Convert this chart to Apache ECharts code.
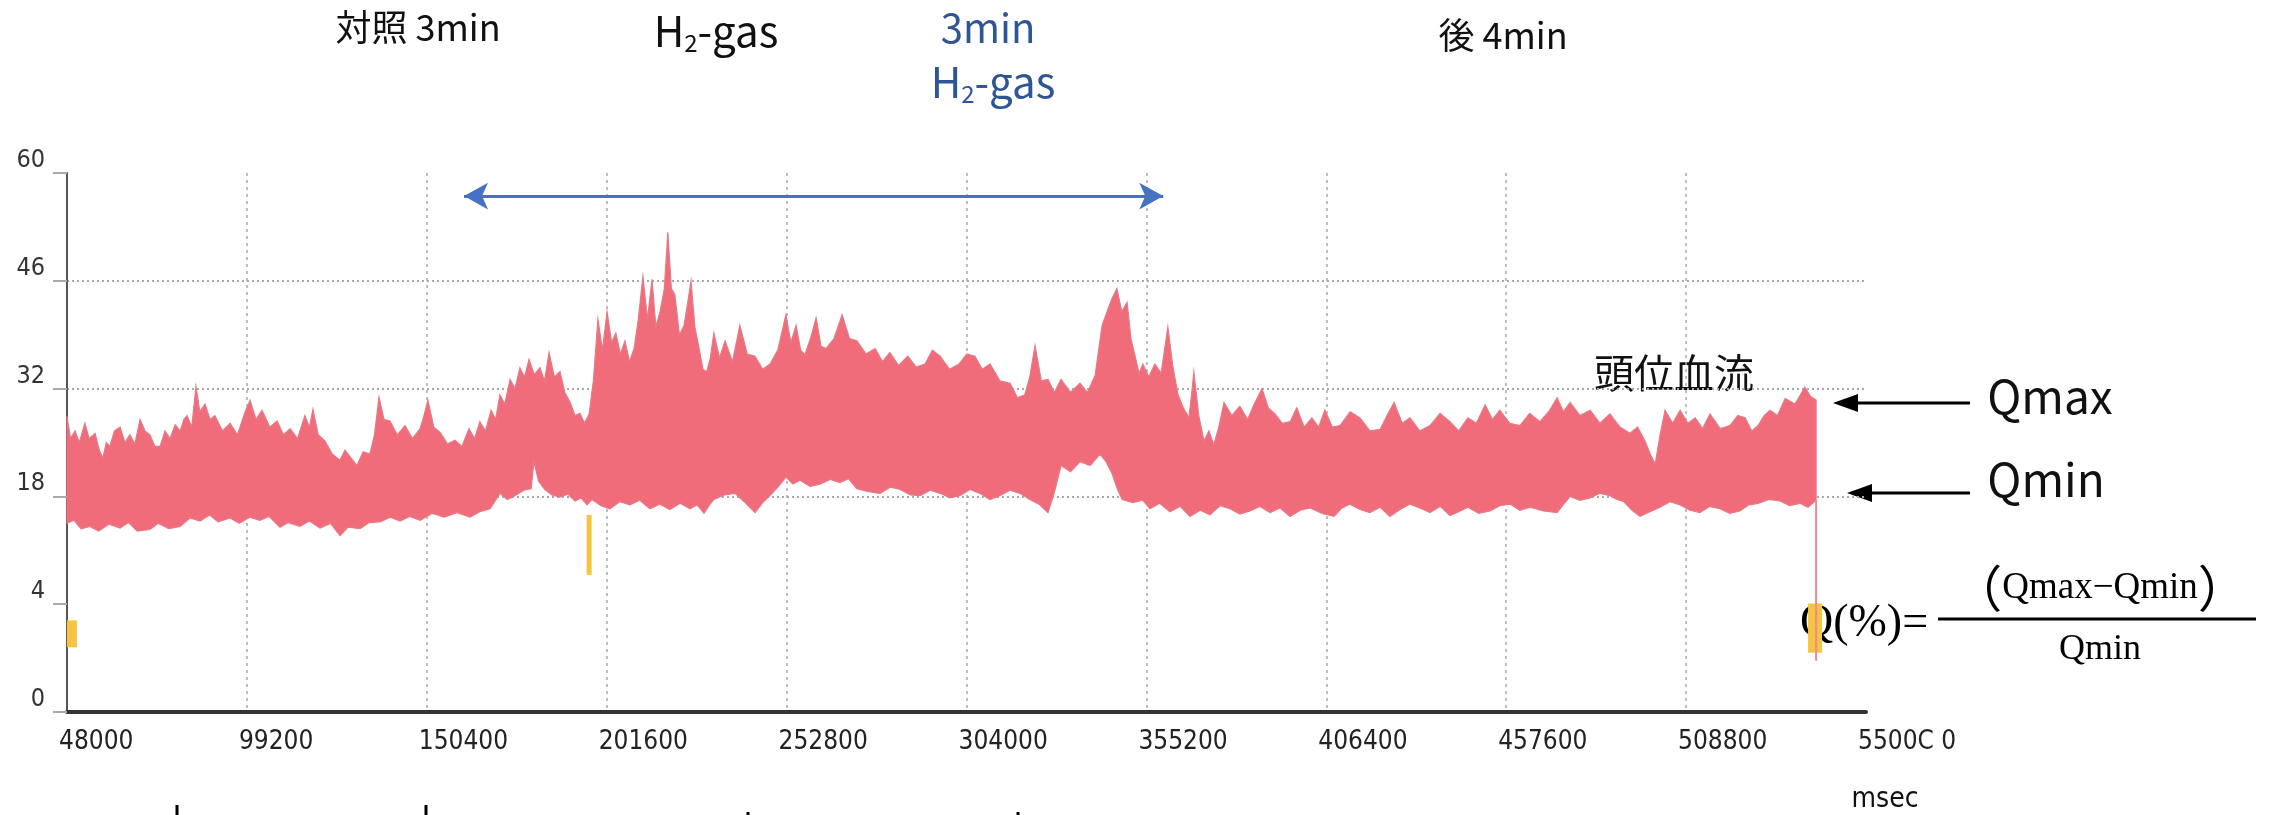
<!DOCTYPE html>
<html>
<head>
<meta charset="utf-8">
<script src="https://cdn.jsdelivr.net/npm/echarts@6/dist/echarts.min.js"></script>
<style>
  html, body { margin: 0; padding: 0; background: #fff; }
  #main { width: 2273px; height: 815px; }
</style>
</head>
<body>
<div id="main"></div>
<script>
// tick labels as printed on the scan (y axis is evenly spaced, labels are not)
var yTickLabels = ['0', '4', '18', '32', '46', '60'];
var xTickLabels = ['48000', '99200', '150400', '201600', '252800', '304000',
                   '355200', '406400', '457600', '508800', '5500C 0'];
var T0 = 48000;        // first x tick, msec
var xStep = 51200;     // msec between x ticks

// upper edge of the blood-flow band [msec, value]
var upperEnv = [
  [48000, 28.4], [49000, 25.5], [50300, 26.5], [51500, 25], [53100, 27.5], [54300, 25.5],
  [56000, 26.2], [57200, 24], [58200, 23], [59200, 25], [60200, 24.5], [61500, 26.5],
  [63100, 27], [64500, 25], [65900, 26], [67300, 24.8], [68800, 28], [70200, 26.5],
  [71600, 26], [73000, 24.5], [74500, 24.5], [75900, 26.5], [77300, 25.5], [78800, 27.3],
  [80200, 26.5], [81300, 28], [82200, 28.5], [83500, 27], [84700, 32.3], [85800, 29],
  [87300, 30], [88700, 28], [90100, 28.5], [92300, 26.5], [94400, 27.5], [96500, 26],
  [98700, 29], [100100, 30.5], [101800, 28], [103500, 29.2], [105700, 27], [107800, 27.8],
  [109600, 26], [111500, 26.8], [113600, 25.5], [115700, 28.5], [117000, 27], [118000, 29.3],
  [119500, 26], [121400, 25.2], [123500, 23.5], [125700, 22.7], [127100, 24], [128500, 23.2],
  [130500, 22], [132300, 23.8], [134200, 23.5], [135500, 26], [136800, 30.9], [138200, 28],
  [139900, 27.8], [142000, 26], [144200, 27.2], [146300, 25.5], [148500, 26.8], [149600, 28.5],
  [150700, 30.5], [152400, 27], [154200, 26.3], [156300, 24.8], [158400, 25.3], [160400, 24.5],
  [162400, 26.8], [164000, 25.5], [165500, 27.7], [167100, 26.5], [168700, 29.2], [170000, 28],
  [171200, 31.2], [172600, 30], [174100, 33.2], [175500, 32], [176900, 34.7], [178200, 33.5],
  [179500, 35.8], [181000, 33.8], [182600, 34.7], [183900, 33], [185200, 36.7], [186700, 33.5],
  [188300, 34.2], [189700, 31.5], [191200, 30.2], [192600, 28.5], [194000, 28.8], [195300, 27.5],
  [196600, 28.7], [197800, 33], [199100, 41], [200400, 37], [201700, 42], [203000, 38],
  [204200, 39.2], [205500, 36.5], [206800, 38.2], [208100, 35.5], [209400, 37.2], [210600, 41],
  [211900, 46.6], [213200, 41], [214500, 46.2], [215600, 40], [216800, 42], [218000, 45],
  [219000, 52.3], [220000, 45], [221000, 44.2], [222300, 39], [223600, 40.2], [224600, 43],
  [225600, 46], [226700, 40], [227900, 37.2], [229000, 34.5], [230100, 34.2], [231100, 36],
  [232100, 39.2], [233700, 36], [235300, 38.2], [237400, 35.5], [239500, 40.2], [241600, 36.5],
  [243800, 36.2], [246000, 34.5], [248100, 35.2], [250300, 37], [252600, 41.6], [254000, 38],
  [255500, 40.2], [256800, 37], [258000, 36.4], [259600, 38.5], [261200, 41.2], [262600, 37.5],
  [264000, 37.2], [266300, 38.5], [268600, 41.6], [270700, 38.5], [272800, 38.2], [275400, 36.5],
  [278000, 37.2], [280100, 35.5], [282200, 36.7], [284700, 35], [287300, 36.2], [289700, 34.8],
  [292200, 35.2], [294300, 37], [296500, 36.2], [299200, 34.5], [301900, 35.2], [304100, 36.5],
  [306400, 36.2], [308500, 34.5], [310700, 35.2], [313500, 33], [316400, 32.7], [318500, 30.8],
  [320600, 31.2], [322000, 33.5], [323500, 37.6], [325300, 33], [327200, 33.2], [329000, 31.5],
  [330900, 33.2], [333600, 31.5], [336300, 32.7], [338400, 31.5], [340600, 33.7], [341600, 37],
  [342600, 40.2], [344000, 42], [345400, 43.7], [346800, 45], [348200, 42], [349700, 43.2],
  [350800, 38.5], [352000, 36.2], [353100, 34], [354200, 35.2], [355900, 33.5], [357600, 35.2],
  [359400, 34], [361300, 40], [362700, 35], [364200, 31.2], [365700, 29.5], [367300, 28.2],
  [368000, 31], [368700, 34.2], [370100, 28.5], [371600, 25.2], [373000, 26.5], [374400, 24.7],
  [375800, 27], [377300, 30.2], [379500, 28.5], [381800, 29.7], [384000, 28], [385900, 30],
  [388100, 32], [389900, 29.5], [391800, 28.7], [393900, 27.5], [396100, 27.7], [398000, 29.5],
  [400100, 27], [402300, 28.2], [404200, 27], [406000, 29.2], [408100, 27], [410300, 27.2],
  [413200, 29], [416000, 28.2], [418800, 26.5], [421700, 26.7], [423700, 28.5], [425700, 30.2],
  [428000, 27.5], [430200, 28.2], [433000, 26.5], [435900, 27.2], [438800, 28.8], [441600, 27.7],
  [444100, 26.5], [446700, 28.2], [449100, 27.5], [451600, 29.9], [453700, 28], [455800, 29.2],
  [458600, 27.5], [461500, 27.2], [464300, 28.8], [467200, 27.7], [469700, 29], [472100, 30.8],
  [473900, 29], [475800, 30.2], [478600, 28.5], [481500, 29.2], [484300, 27.5], [487100, 28.7],
  [490000, 27], [492800, 26.2], [495000, 27], [497100, 25.2], [498600, 23.5], [500000, 22.2],
  [501400, 26], [502800, 29.2], [505000, 27.5], [507100, 29.2], [509300, 27.5], [511400, 28.2],
  [513500, 26.8], [515600, 28.7], [518500, 26.8], [521300, 27.2], [523500, 28.5], [525600, 28.2],
  [527500, 26.5], [529300, 27.2], [531000, 28.5], [532700, 29.2], [534800, 28.5], [537000, 30.7],
  [539800, 30], [542600, 32.2], [544200, 31], [545800, 30.5]
];

// lower edge of the band [msec, value]
var lowerEnv = [
  [48000, 14.5], [50000, 14.9], [52000, 13.8], [54500, 14.1], [57000, 13.5], [60000, 14.4],
  [63100, 13.9], [65500, 14.6], [68000, 13.5], [71600, 13.7], [74000, 14.5], [77000, 13.8],
  [80200, 14.1], [83000, 15.2], [85900, 14.8], [88500, 15.6], [91000, 14.7], [94400, 15.2],
  [97000, 14.5], [100000, 15.3], [102900, 14.9], [105500, 15.4], [108600, 14], [111000, 14.6],
  [114300, 14.1], [117000, 14.8], [120000, 13.9], [123000, 14.5], [125700, 12.9], [128000, 14],
  [131400, 13.8], [134000, 14.6], [137100, 14.7], [140000, 15.3], [142800, 14.8], [145500, 15.4],
  [148500, 14.9], [152000, 15.8], [155300, 15.3], [159000, 15.9], [162700, 15.3], [165500, 16],
  [168400, 16.4], [170000, 17.5], [171200, 18.4], [173300, 17.6], [175500, 18.1], [178000, 18.8],
  [180100, 19], [180900, 22.5], [182200, 20], [184000, 18.9], [186000, 18.2], [188300, 17.9],
  [190500, 18.3], [192600, 17.4], [194300, 17.8], [196000, 16.9], [197400, 17.6], [200000, 16.8],
  [202500, 16.4], [205300, 17.3], [208200, 16.9], [211000, 17.5], [213900, 16.4], [216700, 17],
  [219600, 16.3], [222500, 17.1], [225300, 16.4], [227300, 16.9], [229300, 15.8], [230700, 16.8],
  [232100, 17.6], [235100, 18.2], [238100, 18.4], [241000, 17.2], [243800, 15.9], [246000, 17.2],
  [248100, 18.1], [250500, 19.3], [252600, 20.5], [254600, 19.6], [256600, 20.1], [259500, 19.3],
  [262300, 19.6], [265200, 20.2], [268000, 19.8], [270400, 20.3], [272800, 19], [276100, 18.6],
  [279400, 18.4], [282300, 19.2], [285100, 18.9], [288000, 18.2], [290800, 18.1], [293700, 18.8],
  [296500, 18.4], [299300, 17.8], [302100, 18.1], [305000, 18.9], [307800, 18.4], [310700, 17.6],
  [313500, 18.1], [316400, 18.8], [319200, 18.4], [322000, 17.6], [324600, 17], [327200, 15.9],
  [329000, 18.5], [330900, 22], [333600, 21.2], [336300, 22.5], [339200, 22], [342000, 23.5],
  [343700, 22.5], [345400, 21], [346900, 19], [348300, 17.6], [351300, 17.2], [354200, 17.5],
  [356200, 16.4], [359000, 17.1], [361900, 16], [364800, 16.7], [367600, 15.4], [370500, 16.2],
  [373300, 15.6], [376200, 16.8], [379000, 16.4], [381800, 15.7], [384700, 16.1], [387500, 16.7],
  [390400, 15.9], [393200, 16.5], [396100, 15.4], [399000, 16.2], [401800, 16.5], [405200, 15.8],
  [408600, 15.4], [410900, 16.5], [413100, 17], [416000, 16.3], [418800, 15.9], [421700, 16.6],
  [424500, 15.4], [427400, 16.3], [430200, 17], [433000, 16.5], [435900, 15.9], [438800, 16.7],
  [441600, 15.5], [444100, 16], [446700, 16.6], [449800, 15.8], [453000, 16.1], [455800, 16.8],
  [458700, 17], [461500, 16.2], [464400, 16.6], [468200, 16.1], [472100, 15.9], [474000, 17],
  [475800, 18], [478600, 17.5], [481500, 17.8], [484300, 18.4], [487100, 18.1], [489100, 17.6],
  [491100, 17.3], [493400, 16.2], [495700, 15.4], [498500, 16], [501400, 16.6], [504200, 17.3],
  [507100, 16.9], [509900, 16.2], [512700, 15.9], [515500, 16.7], [518400, 16.4], [521200, 15.8],
  [524100, 16.1], [526700, 16.9], [529300, 17.1], [532400, 17.6], [535500, 17.4], [538300, 16.8],
  [541200, 17.1], [543500, 16.6], [545800, 17.5]
];

// end of recording: trace falls to baseline
var dropTrace = [[545800, 17.5], [545800, 1.9]];

// yellow channel fragments [msec, low, high]
var yellowMarks = [[49400, 2.4, 3.4], [196600, 7.8, 15.6], [545500, 2.2, 4.1]];
var yellowWidths = [10, 5, 14];

// blue H2 arrow span [msec] and level
var arrowSpan = [161000, 360000];
var arrowLevel = 57;

// map a printed value onto the evenly spaced axis
function toAxis(v) {
  return v <= 4 ? v / 4 : 1 + (v - 4) / 14;
}
function pt(p) { return [p[0] - T0, toAxis(p[1])]; }

var narrow = "'Liberation Sans Narrow', 'DejaVu Sans Condensed', sans-serif";
var jp = "'Noto Sans CJK JP', sans-serif";
var serif = "'Liberation Serif', 'DejaVu Serif', serif";
var grayLine = '#a9a9a9';
var clear = 'rgba(0,0,0,0)';

var xSplitColors = xTickLabels.map(function (d, i) {
  return (i === 0 || i === xTickLabels.length - 1) ? clear : grayLine;
});

var subText = function (color) {
  return {
    text: '{h|H}{s|2}{h|-gas}', align: 'center', verticalAlign: 'middle', fill: color,
    rich: {
      h: { font: '42px ' + jp, lineHeight: 48, fill: color },
      s: { font: '24px ' + jp, lineHeight: 12, verticalAlign: 'bottom', fill: color }
    }
  };
};

var myChart = echarts.init(document.getElementById('main'));

var option = {
  backgroundColor: '#fff',
  animation: false,
  grid: { left: 67, right: 407, top: 173, bottom: 103 },
  xAxis: {
    type: 'value',
    min: 0,
    max: xStep * (xTickLabels.length - 1),
    interval: xStep,
    axisLine: { lineStyle: { color: '#333', width: 4 } },
    axisTick: { show: false },
    axisLabel: {
      formatter: function (v) { return xTickLabels[Math.round(v / xStep)]; },
      align: 'left',
      padding: [0, 0, 0, -8],
      margin: 17,
      fontFamily: narrow,
      fontSize: 26,
      color: '#222'
    },
    splitLine: { show: true, lineStyle: { color: xSplitColors, type: [3, 4], width: 1.5 } }
  },
  yAxis: {
    type: 'value',
    min: 0,
    max: 5,
    interval: 1,
    axisLine: { show: true, lineStyle: { color: '#555', width: 2 } },
    axisTick: { show: true, length: 14, lineStyle: { color: grayLine, width: 2 } },
    axisLabel: {
      formatter: function (v) { return yTickLabels[v]; },
      verticalAlign: 'bottom',
      margin: 22,
      fontFamily: narrow,
      fontSize: 25,
      color: '#333'
    },
    splitLine: {
      show: true,
      lineStyle: { color: [clear, clear, grayLine, grayLine, grayLine, clear], type: [2, 3], width: 2 }
    }
  },
  series: [
    {
      name: '頭位血流',
      type: 'custom',
      silent: true,
      z: 3,
      data: [[0, 0]],
      renderItem: function (params, api) {
        var pts = upperEnv.map(function (p) { return api.coord(pt(p)); });
        lowerEnv.slice().reverse().forEach(function (p) { pts.push(api.coord(pt(p))); });
        return {
          type: 'polygon',
          shape: { points: pts },
          style: { fill: '#f16c7b', stroke: '#e57a86', lineWidth: 1.2 }
        };
      }
    },
    {
      name: 'drop',
      type: 'line',
      silent: true,
      z: 3,
      symbol: 'none',
      data: dropTrace.map(pt),
      lineStyle: { color: '#ee8a94', width: 2 },
      markLine: {
        silent: true,
        symbol: ['arrow', 'arrow'],
        symbolSize: [20, 24],
        label: { show: false },
        lineStyle: { color: '#4472c4', width: 3, type: 'solid' },
        data: [[
          { coord: [arrowSpan[0] - T0, toAxis(arrowLevel)] },
          { coord: [arrowSpan[1] - T0, toAxis(arrowLevel)] }
        ]]
      }
    },
    {
      name: 'yellow',
      type: 'custom',
      silent: true,
      z: 2,
      data: yellowMarks.map(function (m, i) { return [m[0] - T0, toAxis(m[1]), toAxis(m[2]), i]; }),
      renderItem: function (params, api) {
        var lo = api.coord([api.value(0), api.value(1)]);
        var hi = api.coord([api.value(0), api.value(2)]);
        var w = yellowWidths[api.value(3)];
        return {
          type: 'rect',
          shape: { x: lo[0] - w / 2, y: hi[1], width: w, height: lo[1] - hi[1] },
          style: { fill: '#f5c542' }
        };
      }
    }
  ],
  graphic: [
    { type: 'text', x: 418, y: 27, style: { text: '対照 3min', font: '36px ' + jp, fill: '#111', align: 'center', verticalAlign: 'middle' } },
    { type: 'text', x: 716, y: 31, style: subText('#111') },
    { type: 'text', x: 988, y: 28, style: { text: '3min', font: '40px ' + jp, fill: '#2f5597', align: 'center', verticalAlign: 'middle' } },
    { type: 'text', x: 993, y: 82, style: subText('#2f5597') },
    { type: 'text', x: 1503, y: 35, style: { text: '後 4min', font: '36px ' + jp, fill: '#111', align: 'center', verticalAlign: 'middle' } },
    { type: 'text', x: 1674, y: 373, style: { text: '頭位血流', font: '40px ' + jp, fill: '#111', align: 'center', verticalAlign: 'middle' } },

    // Qmax / Qmin pointers
    { type: 'line', shape: { x1: 1970, y1: 403, x2: 1850, y2: 403 }, style: { stroke: '#000', lineWidth: 3 } },
    { type: 'polygon', shape: { points: [[1833, 403], [1858, 394], [1858, 412]] }, style: { fill: '#000' } },
    { type: 'text', x: 2050, y: 397, style: { text: 'Qmax', font: '46px ' + jp, fill: '#111', align: 'center', verticalAlign: 'middle' } },
    { type: 'line', shape: { x1: 1970, y1: 493, x2: 1864, y2: 493 }, style: { stroke: '#000', lineWidth: 3 } },
    { type: 'polygon', shape: { points: [[1847, 493], [1872, 484], [1872, 502]] }, style: { fill: '#000' } },
    { type: 'text', x: 2046, y: 480, style: { text: 'Qmin', font: '46px ' + jp, fill: '#111', align: 'center', verticalAlign: 'middle' } },

    // formula
    { type: 'text', x: 1800, y: 624, style: { text: 'Q(%)=', font: '46px ' + serif, fill: '#000', align: 'left', verticalAlign: 'middle' } },
    { type: 'line', shape: { x1: 1938, y1: 619, x2: 2256, y2: 619 }, style: { stroke: '#000', lineWidth: 3 } },
    { type: 'text', x: 2100, y: 588, style: {
        text: '{p|（}{t|Qmax−Qmin}{p|）}', align: 'center', verticalAlign: 'middle', fill: '#000',
        rich: { p: { font: '50px ' + jp }, t: { font: '37px ' + serif } }
      } },
    { type: 'text', x: 2100, y: 650, style: { text: 'Qmin', font: '36px ' + serif, fill: '#000', align: 'center', verticalAlign: 'middle' } },

    { type: 'text', x: 1885, y: 800, style: { text: 'msec', font: '28px ' + narrow, fill: '#111', align: 'center', verticalAlign: 'middle' } },

    // bracket stubs at the bottom edge
    { type: 'line', shape: { x1: 177, y1: 805, x2: 177, y2: 815 }, style: { stroke: '#000', lineWidth: 3 } },
    { type: 'line', shape: { x1: 426, y1: 805, x2: 426, y2: 815 }, style: { stroke: '#000', lineWidth: 3 } },
    { type: 'line', shape: { x1: 748, y1: 812, x2: 748, y2: 815 }, style: { stroke: '#000', lineWidth: 3 } },
    { type: 'line', shape: { x1: 1018, y1: 812, x2: 1018, y2: 815 }, style: { stroke: '#000', lineWidth: 3 } }
  ]
};

if (option && typeof option === 'object') {
  myChart.setOption(option);
}
</script>
</body>
</html>
